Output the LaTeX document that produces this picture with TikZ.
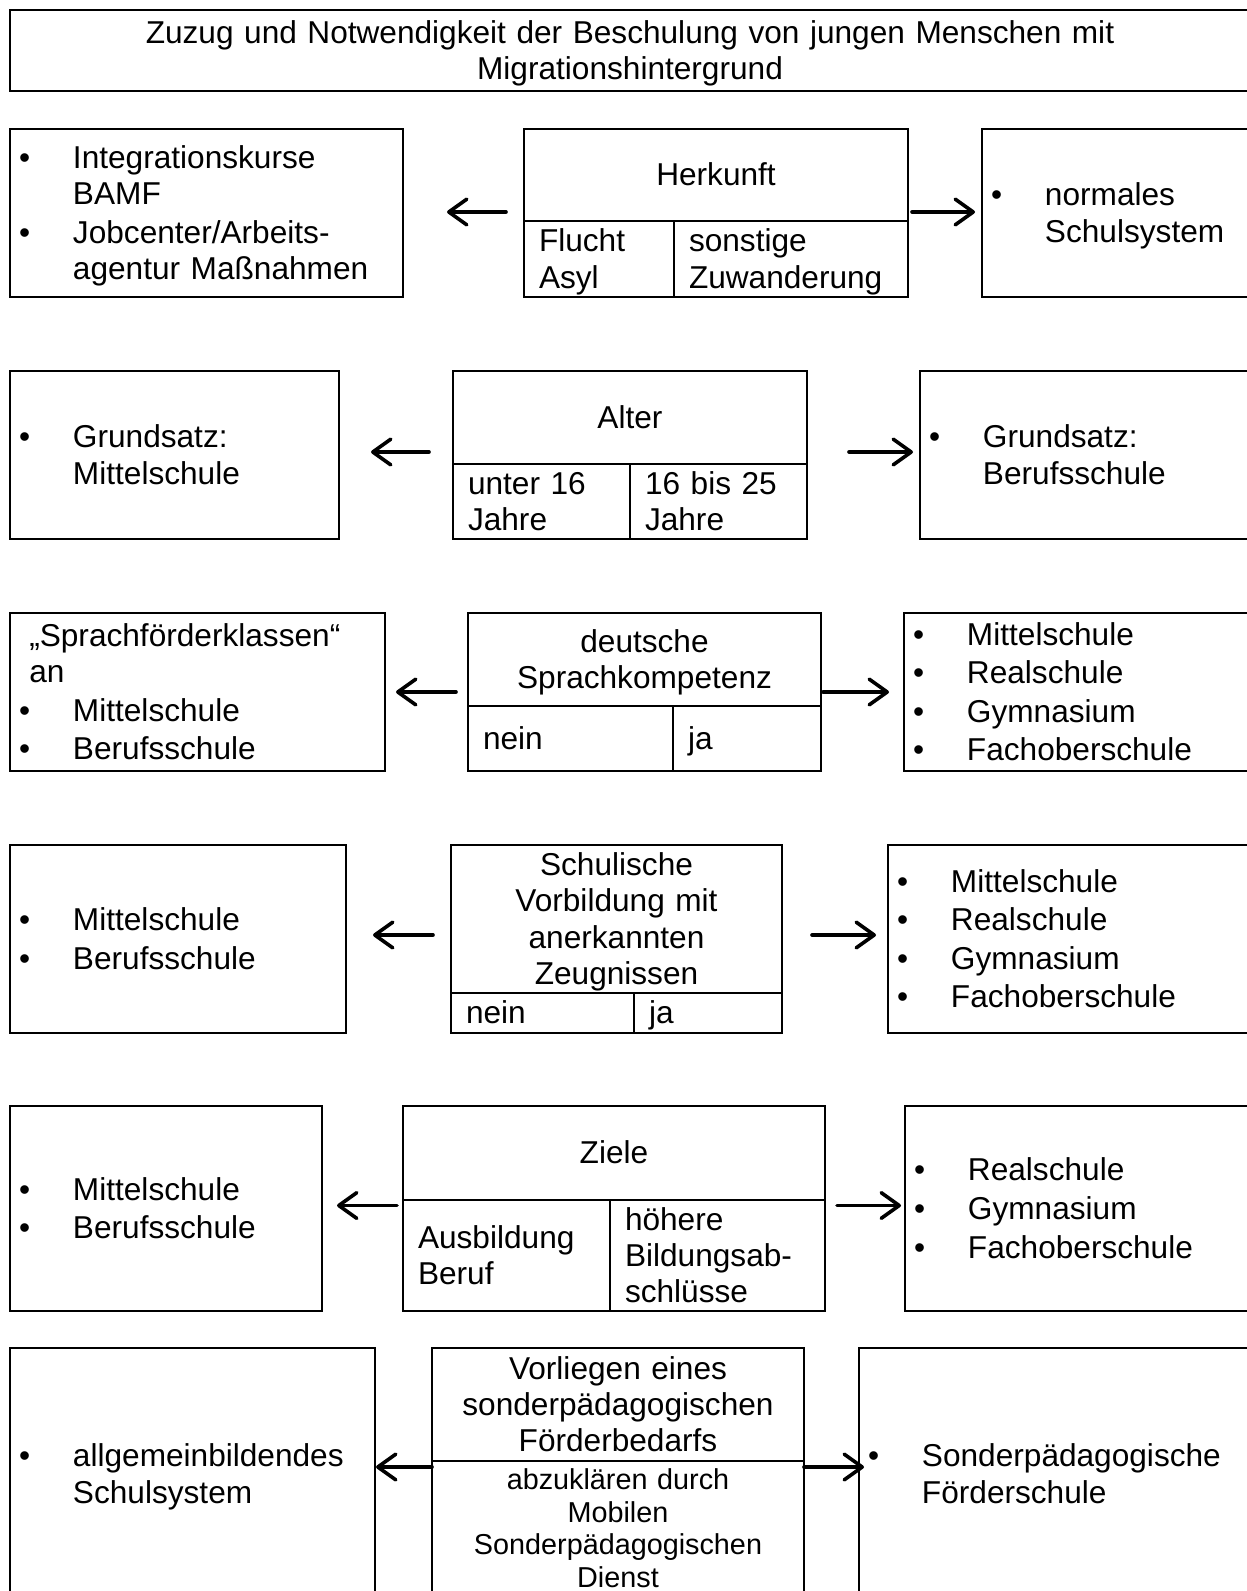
\documentclass[tikz,border=0pt]{standalone}
\usepackage{fontspec}
\setmainfont{Liberation Sans}
\usetikzlibrary{arrows.meta}
\newcommand\pxl{0.389pt}
\newcommand\gross{\fontsize{12.3pt}{14.1pt}\selectfont}
\newcommand\klein{\fontsize{11.2pt}{12.8pt}\selectfont}
\newcommand\stz{\rule[-0.212em]{0pt}{1.117em}}
\newcommand\blt{\makebox[21pt][l]{\textbullet}}
\newcommand\ein{\hspace*{21pt}}

\begin{document}
\begin{tikzpicture}[x=\pxl, y=-\pxl, every node/.style={font=\gross, outer sep=0pt},
	kasten/.style 2 args={draw, line width=0.8pt, anchor=north west, minimum width=#1*\pxl, minimum height=#2*\pxl, text width=#1*\pxl-18*\pxl, inner xsep=9*\pxl, inner ysep=0pt, align=left, execute at begin node=\stz, execute at end node=\stz},
	kopf/.style 2 args={kasten={#1}{#2}, align=center},
	zelle/.style 2 args={kasten={#1}{#2}, text width=#1*\pxl-30*\pxl, inner xsep=15*\pxl},
	pfeil/.style={line width=1.4pt, line cap=round, -{Straight Barb[length=7pt, width=10pt, round]}}]
	\useasboundingbox (0,0) rectangle (1247,1591);
	\clip (0,0) rectangle (1247,1591);
	\node[kopf={1240}{81}] (titel) at (10,10) {Zuzug und Notwendigkeit der Beschulung von jungen Menschen mit\\Migrationshintergrund};

	\node[kasten={393}{168}] (l1) at (10,129) {\blt Integrationskurse\\\ein BAMF\\[0.9pt]\blt Jobcenter/Arbeits-\\\ein agentur Maßnahmen};
	\node[kopf={384}{92}] (k1) at (524,129) {Herkunft};
	\node[zelle={150}{76}] (k1a) at (524,221) {Flucht\\Asyl};
	\node[zelle={234}{76}] (k1b) at (674,221) {sonstige\\Zuwanderung};
	\node[kasten={280}{168}] (r1) at (982,129) {\blt normales\\\ein Schulsystem};

	\node[kasten={329}{168}] (l2) at (10,371) {\blt Grundsatz:\\\ein Mittelschule};
	\node[kopf={354}{93}] (k2) at (453,371) {Alter};
	\node[zelle={177}{75}] (k2a) at (453,464) {unter 16\\Jahre};
	\node[zelle={177}{75}] (k2b) at (630,464) {16 bis 25\\Jahre};
	\node[kasten={340}{168}] (r2) at (920,371) {\blt Grundsatz:\\\ein Berufsschule};

	\node[kasten={375}{158}] (l3) at (10,613) {\hspace*{4pt}„Sprachförderklassen“\\\hspace*{4pt}an\\[0.9pt]\blt Mittelschule\\[0.9pt]\blt Berufsschule};
	\node[kopf={353}{93}] (k3) at (468,613) {deutsche\\Sprachkompetenz};
	\node[zelle={205}{65}] (k3a) at (468,706) {nein};
	\node[zelle={148}{65}] (k3b) at (673,706) {ja};
	\node[kasten={360}{158}] (r3) at (904,613) {\blt Mittelschule\\[0.9pt]\blt Realschule\\[0.9pt]\blt Gymnasium\\[0.9pt]\blt Fachoberschule};

	\node[kasten={336}{188}] (l4) at (10,845) {\blt Mittelschule\\[0.9pt]\blt Berufsschule};
	\node[kopf={331}{148}] (k4) at (451,845) {Schulische\\Vorbildung mit\\anerkannten\\Zeugnissen};
	\node[zelle={183}{40}] (k4a) at (451,993) {nein};
	\node[zelle={148}{40}] (k4b) at (634,993) {ja};
	\node[kasten={370}{188}] (r4) at (888,845) {\blt Mittelschule\\[0.9pt]\blt Realschule\\[0.9pt]\blt Gymnasium\\[0.9pt]\blt Fachoberschule};

	\node[kasten={312}{205}] (l5) at (10,1106) {\blt Mittelschule\\[0.9pt]\blt Berufsschule};
	\node[kopf={422}{94}] (k5) at (403,1106) {Ziele};
	\node[zelle={207}{111}] (k5a) at (403,1200) {Ausbildung\\Beruf};
	\node[zelle={215}{111}] (k5b) at (610,1200) {höhere\\Bildungsab-\\schlüsse};
	\node[kasten={360}{205}] (r5) at (905,1106) {\blt Realschule\\[0.9pt]\blt Gymnasium\\[0.9pt]\blt Fachoberschule};

	\node[kasten={365}{252}] (l6) at (10,1348) {\blt allgemeinbildendes\\\ein Schulsystem};
	\node[kopf={372}{113}] (k6) at (432,1348) {Vorliegen eines\\sonderpädagogischen\\Förderbedarfs};
	\node[kopf={372}{135}, font=\klein] (k6a) at (432,1461) {abzuklären durch\\Mobilen\\Sonderpädagogischen\\Dienst};
	\node[kasten={400}{252}] (r6) at (859,1348) {\blt Sonderpädagogische\\\ein Förderschule};

	\foreach \r/\dy/\la/\lb/\ra/\rb in {1/-1/18/44/4/7, 2/-3/24/32/42/7, 3/0/12/11/2/15, 4/-4/18/27/30/12, 5/-3/6/15/12/4, 6/-7/0/1/0/-5} {
		\draw[pfeil, shorten <=\la*\pxl, shorten >=\lb*\pxl] ([yshift=-\dy*\pxl]l\r.east -| k\r.west) -- ([yshift=-\dy*\pxl]l\r.east);
		\draw[pfeil, shorten <=\ra*\pxl, shorten >=\rb*\pxl] ([yshift=-\dy*\pxl]r\r.west -| k\r.east) -- ([yshift=-\dy*\pxl]r\r.west);
	}
\end{tikzpicture}
\end{document}
